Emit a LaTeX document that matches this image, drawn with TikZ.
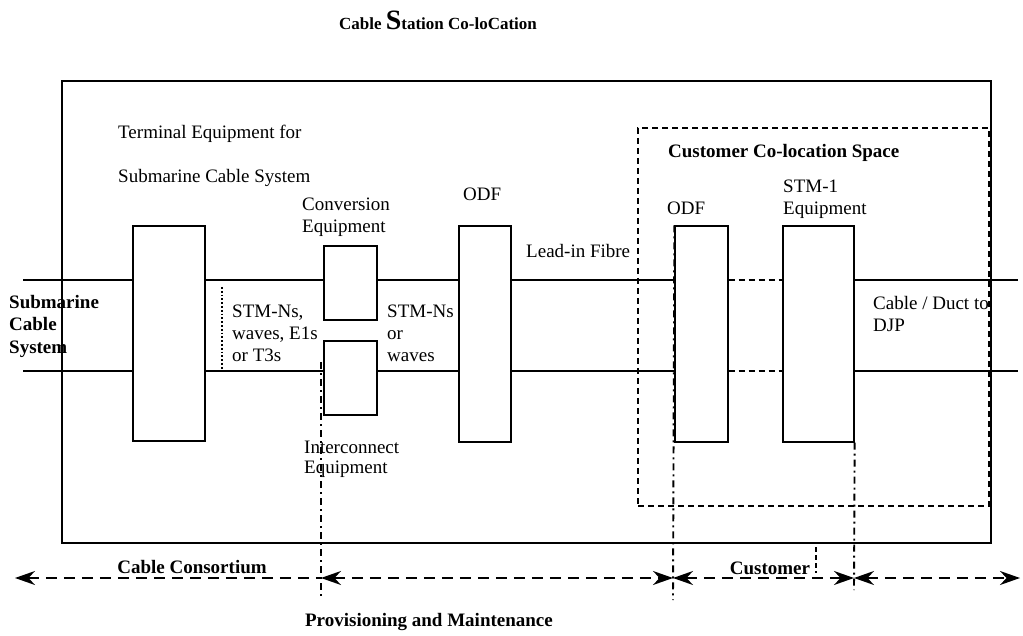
\documentclass[tikz,border=0pt]{standalone}
\usepackage{fontspec}
\setmainfont{Liberation Serif}
\usetikzlibrary{arrows.meta, positioning}

\begin{document}
\begin{tikzpicture}[
    x=1pt, y=-1pt,
    font=\fontsize{19}{22}\selectfont,
    every node/.style={inner sep=0pt},
    box/.style={draw, line width=1.3pt},
    label/.style={anchor=base west, align=left},
    heading/.style={anchor=base, font=\fontsize{19}{22}\selectfont\bfseries},
    link/.style={line width=1.3pt},
    divider/.style={line width=1.9pt, dash pattern=on 7pt off 4pt on 2pt off 4pt},
    span/.style={line width=1.6pt, dash pattern=on 11pt off 7pt,
        {Stealth[length=20pt,width=14pt]}-{Stealth[length=20pt,width=14pt]}}
]
    % Page size of the reference
    \useasboundingbox (0,0) rectangle (1023,636);

    % Heights of the two fibre lines
    \def\upper{280}
    \def\lower{371}
    \coordinate (up) at (0,\upper);
    \coordinate (lo) at (0,\lower);

    % Station and customer space
    \node[box, minimum width=929pt, minimum height=462pt] (station) at (526.5,312) {};
    \node[draw, line width=1.6pt, dash pattern=on 6pt off 4pt,
          minimum width=351pt, minimum height=378pt] (colo) at (813.5,317) {};

    % Equipment boxes
    \node[box, minimum width=72pt, minimum height=215pt] (term) at (169,333.5) {};
    \node[box, minimum width=53pt, minimum height=74pt] (conv) at (350.5,283) {};
    \node[box, minimum width=53pt, minimum height=74pt] (ic) at (350.5,378) {};
    \node[box, minimum width=52pt, minimum height=216pt] (odfa) at (485,334) {};
    \node[box, minimum width=53pt, minimum height=216pt] (odfb) at (701.5,334) {};
    \node[box, minimum width=71pt, minimum height=216pt] (stm) at (818.5,334) {};

    % Free ends of the fibre lines
    \coordinate (subup) at (23,\upper);
    \coordinate (sublo) at (23,\lower);
    \coordinate (djpup) at (1018,\upper);
    \coordinate (djplo) at (1018,\lower);

    % Fibre lines
    \draw[link] (subup) -- (term.west |- up);
    \draw[link] (term.east |- up) -- (conv.west |- up);
    \draw[link] (conv.east |- up) -- (odfa.west |- up);
    \draw[link] (odfa.east |- up) -- (odfb.west |- up);
    \draw[link, dash pattern=on 6pt off 4pt] (odfb.east |- up) -- (stm.west |- up);
    \draw[link] (stm.east |- up) -- (djpup);
    \draw[link] (sublo) -- (term.west |- lo);
    \draw[link] (term.east |- lo) -- (ic.west |- lo);
    \draw[link] (ic.east |- lo) -- (odfa.west |- lo);
    \draw[link] (odfa.east |- lo) -- (odfb.west |- lo);
    \draw[link, dash pattern=on 6pt off 4pt] (odfb.east |- lo) -- (stm.west |- lo);
    \draw[link] (stm.east |- lo) -- (djplo);

    % Hand-over points
    \draw[line width=1.8pt, dotted] (222,287) -- (222,369);
    \coordinate (pA) at (321,578);
    \coordinate (pB) at (673,578);
    \coordinate (pC) at (854,578);
    \draw[divider] (321,362) -- (321,597);
    \draw[divider] (odfb.north west) -- (673,600);
    \draw[divider] (stm.south east) -- (854,590);
    \draw[line width=1.6pt, dash pattern=on 5pt off 3pt] (816,547) -- (816,573);

    % Responsibility spans
    \coordinate (lend) at (15,578);
    \coordinate (rend) at (1020,578);
    \draw[span, {Stealth[length=20pt,width=14pt]}-] (lend) -- (pA);
    \draw[span] (pA) -- (pB);
    \draw[span] (pB) -- (pC);
    \draw[span] (pC) -- (rend);

    % Texts (multi-line labels sit on their last baseline)
    \node[heading, font=\fontsize{17}{20}\selectfont\bfseries] (title) at (438,30)
        {Cable {\fontsize{28}{28}\selectfont S}tation Co-loCation};
    \node[label] (termtxt) at (118,139) {Terminal Equipment for};
    \node[label] (termtxtb) at (118,183) {Submarine Cable System};
    \node[label] (convtxt) at (302,233) {Conversion\\Equipment};
    \node[label] (odfatxt) at (463,201) {ODF};
    \node[label] (leadin) at (526,258) {Lead-in Fibre};
    \node[label, font=\fontsize{19}{22}\selectfont\bfseries] (colotxt) at (668,158) {Customer Co-location Space};
    \node[label] (odfbtxt) at (667,215) {ODF};
    \node[label] (stmtxt) at (783,215) {STM-1\\Equipment};
    \node[label] (djptxt) at (873,332) {Cable / Duct to\\DJP};
    \node[label, font=\fontsize{19}{22}\selectfont\bfseries] (subtxt) at (9,353) {Submarine\\Cable\\System};
    \node[label] (sigtxt) at (232,362) {STM-Ns,\\waves, E1s\\or T3s};
    \node[label] (wavetxt) at (387,362) {STM-Ns\\or\\waves};
    \node[label, font=\fontsize{19}{20}\selectfont] (ictxt) at (304,473) {Interconnect\\Equipment};
    \node[heading] (cons) at (192,573) {Cable Consortium};
    \node[heading] (cust) at (770,574) {Customer};
    \node[heading] (prov) at (429,626) {Provisioning and Maintenance};
\end{tikzpicture}
\end{document}
